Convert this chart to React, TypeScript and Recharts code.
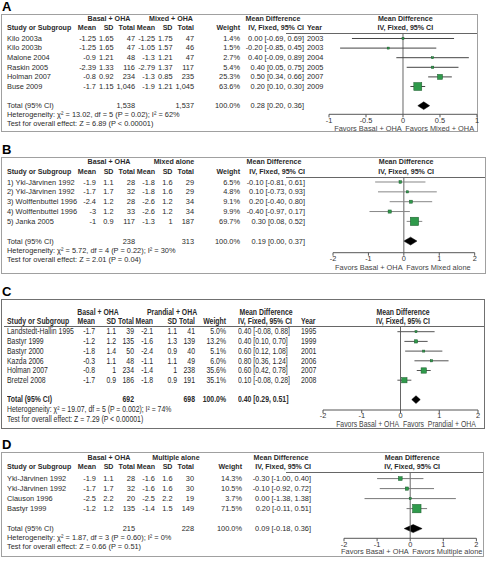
import React from 'react';
import { ScatterChart, Scatter, XAxis, YAxis, ErrorBar, ReferenceLine, ReferenceArea } from 'recharts';

// ---------------- Panel A: Basal + OHA vs Mixed + OHA ----------------
const studiesA = ['Kilo 2003a', 'Kilo 2003b', 'Malone 2004', 'Raskin 2005', 'Holman 2007', 'Buse 2009'];
const yearsA = [2003, 2003, 2004, 2005, 2007, 2009];
const basalMeanA = [-1.25, -1.25, -0.9, -2.39, -0.8, -1.7];
const basalSdA = [1.65, 1.65, 1.21, 1.33, 0.92, 1.15];
const basalNA = [47, 47, 48, 116, 234, 1046];
const compMeanA = [-1.25, -1.05, -1.3, -2.79, -1.3, -1.9];
const compSdA = [1.75, 1.57, 1.21, 1.37, 0.85, 1.21];
const compNA = [47, 46, 47, 117, 235, 1045];
const weightA = [1.4, 1.5, 2.7, 5.4, 25.3, 63.6];
const mdA = [0.0, -0.2, 0.4, 0.4, 0.5, 0.2];
const loA = [-0.69, -0.85, -0.09, 0.05, 0.34, 0.1];
const hiA = [0.69, 0.45, 0.89, 0.75, 0.66, 0.3];
const totalNA = [1538, 1537];
const totalMdA = [0.28, 0.2, 0.36];
const hetA = 'Heterogeneity: χ² = 13.02, df = 5 (P = 0.02); I² = 62%';
const testA = 'Test for overall effect: Z = 6.89 (P < 0.00001)';
const groupsA = ['Basal + OHA', 'Mixed + OHA'];
const favorsA = ['Favors Basal + OHA', 'Favors Mixed + OHA'];
const ticksA = [-1, -0.5, 0, 0.5, 1];

// ---------------- Panel B: Basal + OHA vs Mixed alone ----------------
const studiesB = ['1) Yki-Järvinen 1992', '2) Yki-Järvinen 1992', '3) Wolffenbuttel 1996', '4) Wolffenbuttel 1996', '5) Janka 2005'];
const basalMeanB = [-1.9, -1.7, -2.4, -3, -1];
const basalSdB = [1.1, 1.7, 1.2, 1.2, 0.9];
const basalNB = [28, 32, 28, 33, 117];
const compMeanB = [-1.8, -1.8, -2.6, -2.6, -1.3];
const compSdB = [1.6, 1.6, 1.2, 1.2, 1];
const compNB = [29, 29, 34, 34, 187];
const weightB = [6.5, 4.8, 9.1, 9.9, 69.7];
const mdB = [-0.1, 0.1, 0.2, -0.4, 0.3];
const loB = [-0.81, -0.73, -0.4, -0.97, 0.08];
const hiB = [0.61, 0.93, 0.8, 0.17, 0.52];
const totalNB = [238, 313];
const totalMdB = [0.19, 0.0, 0.37];
const hetB = 'Heterogeneity: χ² = 5.72, df = 4 (P = 0.22); I² = 30%';
const testB = 'Test for overall effect: Z = 2.01 (P = 0.04)';
const groupsB = ['Basal + OHA', 'Mixed alone'];
const favorsB = ['Favors Basal + OHA', 'Favors Mixed alone'];
const ticksB = [-2, -1, 0, 1, 2];

// ---------------- Panel C: Basal + OHA vs Prandial + OHA ----------------
const studiesC = ['Landstedt-Hallin 1995', 'Bastyr 1999', 'Bastyr 2000', 'Kazda 2006', 'Holman 2007', 'Bretzel 2008'];
const yearsC = [1995, 1999, 2001, 2006, 2007, 2008];
const basalMeanC = [-1.7, -1.2, -1.8, -0.3, -0.8, -1.7];
const basalSdC = [1.1, 1.2, 1.4, 1.1, 1, 0.9];
const basalNC = [39, 135, 50, 48, 234, 186];
const compMeanC = [-2.1, -1.6, -2.4, -1.1, -1.4, -1.8];
const compSdC = [1.1, 1.3, 0.9, 1.1, 1, 0.9];
const compNC = [41, 139, 40, 49, 238, 191];
const weightC = [5.0, 13.2, 5.1, 6.0, 35.6, 35.1];
const mdC = [0.4, 0.4, 0.6, 0.8, 0.6, 0.1];
const loC = [-0.08, 0.1, 0.12, 0.36, 0.42, -0.08];
const hiC = [0.88, 0.7, 1.08, 1.24, 0.78, 0.28];
const totalNC = [692, 698];
const totalMdC = [0.4, 0.29, 0.51];
const hetC = 'Heterogeneity: χ² = 19.07, df = 5 (P = 0.002); I² = 74%';
const testC = 'Test for overall effect: Z = 7.29 (P < 0.00001)';
const groupsC = ['Basal + OHA', 'Prandial + OHA'];
const favorsC = ['Favors Basal + OHA', 'Favors  Prandial + OHA'];
const ticksC = [-2, -1, 0, 1, 2];

// ---------------- Panel D: Basal + OHA vs Multiple alone ----------------
const studiesD = ['Yki-Järvinen 1992', 'Yki-Järvinen 1992', 'Clauson 1996', 'Bastyr 1999'];
const basalMeanD = [-1.9, -1.7, -2.5, -1.2];
const basalSdD = [1.1, 1.7, 2.2, 1.2];
const basalND = [28, 32, 20, 135];
const compMeanD = [-1.6, -1.6, -2.5, -1.4];
const compSdD = [1.6, 1.6, 2.2, 1.5];
const compND = [30, 30, 19, 149];
const weightD = [14.3, 10.5, 3.7, 71.5];
const mdD = [-0.3, -0.1, 0.0, 0.2];
const loD = [-1.0, -0.92, -1.38, -0.11];
const hiD = [0.4, 0.72, 1.38, 0.51];
const totalND = [215, 228];
const totalMdD = [0.09, -0.18, 0.36];
const hetD = 'Heterogeneity: χ² = 1.87, df = 3 (P = 0.60); I² = 0%';
const testD = 'Test for overall effect: Z = 0.66 (P = 0.51)';
const groupsD = ['Basal + OHA', 'Multiple alone'];
const favorsD = ['Favors Basal + OHA', 'Favors Multiple alone'];
const ticksD = [-2, -1, 0, 1, 2];

// ---------------- layout / style ----------------
const FONT = "'Liberation Sans', Arial, Helvetica, sans-serif";

const COLS = [96, 113.5, 135, 155, 172.5, 194];

const panels = [
  {
    label: 'A', studies: studiesA, years: yearsA, bm: basalMeanA, bs: basalSdA, bn: basalNA, cm: compMeanA, cs: compSdA, cn: compNA,
    w: weightA, md: mdA, lo: loA, hi: hiA, totN: totalNA, totMd: totalMdA, het: hetA, test: testA, groups: groupsA, favors: favorsA, ticks: ticksA,
    L: { fs: 7.4, hfs: 7.1, sx: 1, rfs: 7.1, rsx: 1, boxTop: 14, boxBottom: 132, boxRight: 478, border: '#a0a0a0', h1: 19.5, h2: 28.5, lineY: 33, lineX0: 286,
      firstRowY: 38.5, rowH: 9.6, het: 115, test: 124, plotX0: 329.3, plotX1: 477.3, axisY: 114.3, favorsY: 128.3,
      cols: COLS, wR: 240, ci: 304, ciAlign: 'right', yearX: 307, g1: 109, g2: 171, mdC: 273,
      ciStroke: '#444', k: 1.0, totalBold: false },
  },
  {
    label: 'B', studies: studiesB, years: null, bm: basalMeanB, bs: basalSdB, bn: basalNB, cm: compMeanB, cs: compSdB, cn: compNB,
    w: weightB, md: mdB, lo: loB, hi: hiB, totN: totalNB, totMd: totalMdB, het: hetB, test: testB, groups: groupsB, favors: favorsB, ticks: ticksB,
    L: { fs: 7.4, hfs: 7.1, sx: 1, rfs: 7.1, rsx: 1, boxTop: 157, boxBottom: 274, boxRight: 485.5, border: '#a0a0a0', h1: 163, h2: 172.3, lineY: 177.3, lineX0: 286,
      firstRowY: 182.3, rowH: 9.85, het: 250.5, test: 259.5, plotX0: 333.3, plotX1: 475, axisY: 253, favorsY: 268,
      cols: COLS, wR: 240, ci: 305, ciAlign: 'right', yearX: 0, g1: 109, g2: 174, mdC: 274,
      ciStroke: '#888', k: 1.0, totalBold: false },
  },
  {
    label: 'C', studies: studiesC, years: yearsC, bm: basalMeanC, bs: basalSdC, bn: basalNC, cm: compMeanC, cs: compSdC, cn: compNC,
    w: weightC, md: mdC, lo: loC, hi: hiC, totN: totalNC, totMd: totalMdC, het: hetC, test: testC, groups: groupsC, favors: favorsC, ticks: ticksC,
    L: { fs: 8.6, hfs: 8.6, sx: 0.8, rfs: 8.6, rsx: 0.8, boxTop: 299, boxBottom: 429, boxRight: 485, border: '#707070', h1: 312.7, h2: 321.3, lineY: 326, lineX0: 4,
      firstRowY: 331.7, rowH: 9.7, het: 409.3, test: 419, plotX0: 323.3, plotX1: 478.3, axisY: 410, favorsY: 424.6,
      cols: [95, 116, 134, 153, 177, 195], wR: 226, ci: 238, ciAlign: 'left', yearX: 301, g1: 98, g2: 172, mdC: 266,
      ciStroke: '#555', k: 0.9, totalBold: true },
  },
  {
    label: 'D', studies: studiesD, years: null, bm: basalMeanD, bs: basalSdD, bn: basalND, cm: compMeanD, cs: compSdD, cn: compND,
    w: weightD, md: mdD, lo: loD, hi: hiD, totN: totalND, totMd: totalMdD, het: hetD, test: testD, groups: groupsD, favors: favorsD, ticks: ticksD,
    L: { fs: 7.4, hfs: 7.1, sx: 1, rfs: 7.1, rsx: 1, boxTop: 452, boxBottom: 557, boxRight: 484, border: '#a0a0a0', h1: 458.3, h2: 467.3, lineY: 471.7, lineX0: 286,
      firstRowY: 478.3, rowH: 10, het: 537.7, test: 547, plotX0: 344, plotX1: 476.4, axisY: 538, favorsY: 552,
      cols: COLS, wR: 242, ci: 311, ciAlign: 'right', yearX: 0, g1: 109, g2: 176, mdC: 281,
      ciStroke: '#777', k: 1.0, totalBold: false },
  },
];

const fmtN = (v: number) => v.toLocaleString('en-US');
const fmtW = (v: number) => v.toFixed(1) + '%';
const fmtCI = (m: number, lo: number, hi: number) => `${m.toFixed(2)} [${lo.toFixed(2)}, ${hi.toFixed(2)}]`;

function T({ x, y, s, a = 'left', b = false, fs, sx = 1, c = '#2a2a2a' }: any) {
  const W = 320;
  const H = fs;
  const left = a === 'right' ? x - W : a === 'center' ? x - W / 2 : x;
  const origin = a === 'right' ? 'right center' : a === 'center' ? 'center center' : 'left center';
  return (
    <div
      style={{
        position: 'absolute', left, top: y - H / 2, width: W, height: H, lineHeight: `${H}px`,
        fontSize: fs, fontFamily: FONT, fontWeight: b ? 700 : 400, color: c, textAlign: a,
        whiteSpace: 'pre', transform: sx !== 1 ? `scaleX(${sx})` : undefined, transformOrigin: origin,
      }}
    >
      {s}
    </div>
  );
}

function Forest({ p }: any) {
  const L = p.L;
  const padL = 14, padR = 10, axisH = 24;
  const plotH = L.axisY - L.lineY;
  const yMin = (L.lineY - L.firstRowY) / L.rowH;
  const yMax = (L.axisY - L.firstRowY) / L.rowH;
  const totIdx = p.studies.length + 1;
  const data = p.md.map((m: number, i: number) => ({ x: m, y: i, err: [m - p.lo[i], p.hi[i] - m], w: p.w[i] }));
  const [tm, tlo, thi] = p.totMd;
  const domain = [p.ticks[0], p.ticks[p.ticks.length - 1]];

  const square = (props: any) => {
    const { cx, cy, payload } = props;
    const s = Math.max(2, L.k * Math.sqrt(payload.w));
    return <rect x={cx - s / 2} y={cy - s / 2} width={s} height={s} fill="#2f9a4b" stroke="#1c5a2c" strokeWidth={0.5} />;
  };
  const diamond = (r: any) => {
    const x = Math.min(r.x, r.x + r.width);
    const w = Math.abs(r.width);
    const y = Math.min(r.y, r.y + r.height);
    const h = Math.abs(r.height);
    const cx = x + (w * (tm - tlo)) / (thi - tlo);
    const cy = y + h / 2;
    return <polygon points={`${x},${cy} ${cx},${y} ${x + w},${cy} ${cx},${y + h}`} fill="#000" stroke="#000" strokeWidth={0.5} />;
  };

  return (
    <div style={{ position: 'absolute', left: L.plotX0 - padL, top: L.lineY }}>
      <ScatterChart
        width={L.plotX1 - L.plotX0 + padL + padR}
        height={plotH + axisH}
        margin={{ top: 0, right: padR, bottom: 0, left: padL }}
      >
        <XAxis
          type="number"
          dataKey="x"
          domain={domain}
          ticks={p.ticks}
          interval={0}
          allowDataOverflow
          height={axisH}
          tickSize={3}
          tickMargin={0}
          axisLine={{ stroke: '#555', strokeWidth: 1 }}
          tickLine={{ stroke: '#555', strokeWidth: 1 }}
          tick={{ fontSize: 7.4, fill: '#333', fontFamily: FONT }}
        />
        <YAxis type="number" dataKey="y" domain={[yMin, yMax]} reversed hide allowDataOverflow />
        <ReferenceLine x={0} stroke="#666" strokeWidth={1} />
        <Scatter data={data} isAnimationActive={false} shape={square}>
          <ErrorBar dataKey="err" direction="x" width={0} stroke={L.ciStroke} strokeWidth={1} isAnimationActive={false} />
        </Scatter>
        <ReferenceArea x1={tlo} x2={thi} y1={totIdx - 0.4} y2={totIdx + 0.4} shape={diamond} ifOverflow="visible" />
      </ScatterChart>
    </div>
  );
}

function Panel({ p }: any) {
  const L = p.L;
  const f = { fs: L.fs, sx: L.sx };
  const hf = { fs: L.hfs, sx: L.sx, b: true };
  const rf = { fs: L.rfs, sx: L.rsx, b: true };
  const rowY = (i: number) => L.firstRowY + i * L.rowH;
  const n = p.studies.length;
  const totY = rowY(n + 1);
  const d0 = p.ticks[0], d1 = p.ticks[p.ticks.length - 1];
  const zeroX = L.plotX0 + ((0 - d0) / (d1 - d0)) * (L.plotX1 - L.plotX0);
  const [c1, c2, c3, c4, c5, c6] = L.cols;
  const ciText = (m: number, lo: number, hi: number, y: number, b = false) => (
    <T {...f} x={L.ci} y={y} a={L.ciAlign} b={b} s={fmtCI(m, lo, hi)} />
  );

  return (
    <>
      <div style={{ position: 'absolute', left: 2, top: L.boxTop - 14.5, fontFamily: FONT, fontWeight: 700, fontSize: 13, lineHeight: '14px', color: '#000' }}>
        {p.label}
      </div>
      <div
        style={{
          position: 'absolute', left: 1, top: L.boxTop, width: L.boxRight - 1, height: L.boxBottom - L.boxTop,
          border: `1px solid ${L.border}`, boxSizing: 'border-box',
        }}
      />
      <div style={{ position: 'absolute', left: L.lineX0, top: L.lineY, width: L.boxRight - L.lineX0 - 1, height: 1, background: '#666' }} />

      {/* header row 1 */}
      <T {...hf} x={L.g1} y={L.h1} a="center" s={p.groups[0]} />
      <T {...hf} x={L.g2} y={L.h1} a="center" s={p.groups[1]} />
      <T {...hf} x={L.mdC} y={L.h1} a="center" s="Mean Difference" />
      <T {...rf} x={zeroX + 2} y={L.h1} a="center" s="Mean Difference" />
      {/* header row 2 */}
      <T {...hf} x={7} y={L.h2} s="Study or Subgroup" />
      <T {...hf} x={c1} y={L.h2} a="right" s="Mean" />
      <T {...hf} x={c2} y={L.h2} a="right" s="SD" />
      <T {...hf} x={c3} y={L.h2} a="right" s="Total" />
      <T {...hf} x={c4} y={L.h2} a="right" s="Mean" />
      <T {...hf} x={c5} y={L.h2} a="right" s="SD" />
      <T {...hf} x={c6} y={L.h2} a="right" s="Total" />
      <T {...hf} x={L.wR} y={L.h2} a="right" s="Weight" />
      <T {...hf} x={L.ci} y={L.h2} a={L.ciAlign} s="IV, Fixed, 95% CI" />
      {p.years ? <T {...hf} x={L.yearX} y={L.h2} s="Year" /> : null}
      <T {...rf} x={zeroX + 2} y={L.h2} a="center" s="IV, Fixed, 95% CI" />

      {/* study rows */}
      {p.studies.map((s: string, i: number) => {
        const y = rowY(i);
        return (
          <React.Fragment key={i}>
            <T {...f} x={7} y={y} s={s} />
            <T {...f} x={c1} y={y} a="right" s={String(p.bm[i])} />
            <T {...f} x={c2} y={y} a="right" s={String(p.bs[i])} />
            <T {...f} x={c3} y={y} a="right" s={fmtN(p.bn[i])} />
            <T {...f} x={c4} y={y} a="right" s={String(p.cm[i])} />
            <T {...f} x={c5} y={y} a="right" s={String(p.cs[i])} />
            <T {...f} x={c6} y={y} a="right" s={fmtN(p.cn[i])} />
            <T {...f} x={L.wR} y={y} a="right" s={fmtW(p.w[i])} />
            {ciText(p.md[i], p.lo[i], p.hi[i], y)}
            {p.years ? <T {...f} x={L.yearX} y={y} s={String(p.years[i])} /> : null}
          </React.Fragment>
        );
      })}

      {/* total row */}
      <T {...f} x={7} y={totY} b={L.totalBold} s="Total (95% CI)" />
      <T {...f} x={c3} y={totY} a="right" b={L.totalBold} s={fmtN(p.totN[0])} />
      <T {...f} x={c6} y={totY} a="right" b={L.totalBold} s={fmtN(p.totN[1])} />
      <T {...f} x={L.wR} y={totY} a="right" b={L.totalBold} s={fmtW(100)} />
      {ciText(p.totMd[0], p.totMd[1], p.totMd[2], totY, L.totalBold)}
      <T {...f} x={7} y={L.het} s={p.het} />
      <T {...f} x={7} y={L.test} s={p.test} />

      {/* favours labels */}
      <T {...f} x={zeroX - 1.5} y={L.favorsY} a="right" c="#444" s={p.favors[0]} />
      <T {...f} x={zeroX + 2} y={L.favorsY} a="left" c="#444" s={p.favors[1]} />

      <Forest p={p} />
    </>
  );
}

export default function App() {
  return (
    <div style={{ position: 'absolute', left: 0, top: 0, width: 486, height: 563, overflow: 'hidden', background: '#fff' }}>
      {panels.map((p) => (
        <Panel key={p.label} p={p} />
      ))}
    </div>
  );
}
